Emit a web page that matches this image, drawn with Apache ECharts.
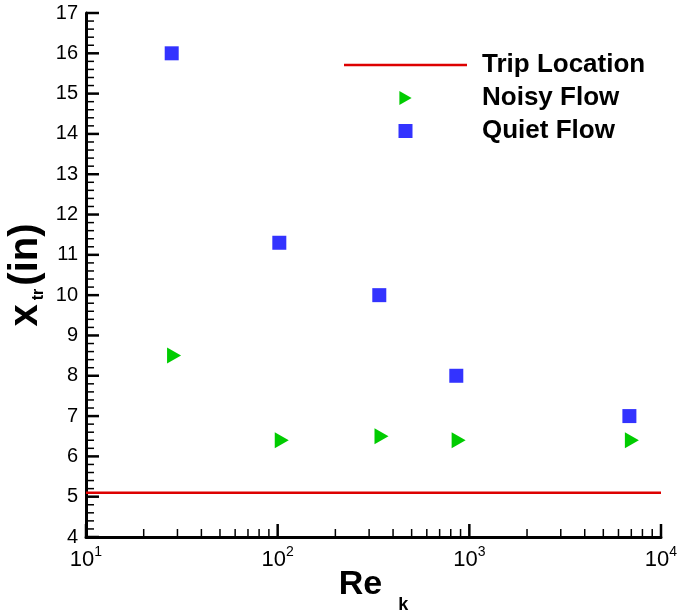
<!DOCTYPE html>
<html>
<head>
<meta charset="utf-8">
<script src="https://cdn.jsdelivr.net/npm/echarts@6/dist/echarts.min.js"></script>
<style>
  html, body { margin: 0; padding: 0; background: #fff; }
  #chart { width: 681px; height: 613px; }
</style>
</head>
<body>
<div id="chart"></div>
<script>
// values
const quietRe = [28, 102, 339, 855, 6840];
const quietX = [16.0, 11.3, 10.0, 8.0, 7.0];
const noisyRe = [28.8, 105, 348, 879, 7050];
const noisyX = [8.5, 6.4, 6.5, 6.4, 6.4];
const tripRe = [10, 10000];
const tripX = [5.1, 5.1];

// axis ticks
const xMajor = [10, 100, 1000, 10000];
const xMinorSteps = [2, 3, 4, 5, 6, 7, 8, 9];
const yMajor = [4, 5, 6, 7, 8, 9, 10, 11, 12, 13, 14, 15, 16, 17];
const yMinorSteps = [0.2, 0.4, 0.6, 0.8];

const FONT = '"Liberation Sans", Arial, sans-serif';
const X0 = 10, Y0 = 4;

const zip = (xs, ys) => xs.map((x, i) => [x, ys[i]]);

// tick marks: [x, y, dir(0 = on x axis, 1 = on y axis), length]
const ticks = [];
xMajor.forEach((d, i) => {
  ticks.push([d, Y0, 0, 13]);
  if (i < xMajor.length - 1) xMinorSteps.forEach(m => ticks.push([d * m, Y0, 0, 8]));
});
yMajor.forEach((v, i) => {
  ticks.push([X0, v, 1, 13]);
  if (i < yMajor.length - 1) yMinorSteps.forEach(s => ticks.push([X0, v + s, 1, 8]));
});

const chart = echarts.init(document.getElementById('chart'));

chart.setOption({
  animation: false,
  grid: { left: 86, right: 20, top: 13, bottom: 76, containLabel: false, outerBoundsMode: 'none' },
  legend: {
    data: [
      { name: 'Trip Location', icon: 'path://M0,0H100V2H0Z' },
      { name: 'Noisy Flow', icon: 'path://M0,0L14,8L0,16Z' },
      { name: 'Quiet Flow', icon: 'path://M0,0H1V1H0Z' }
    ],
    orient: 'vertical',
    left: 339,
    top: 47,
    itemWidth: 123,
    itemHeight: 14,
    itemGap: 7,
    textStyle: {
      fontFamily: FONT, fontWeight: 'bold', fontSize: 26, color: '#000',
      lineHeight: 26, padding: [0, 0, 0, 10]
    }
  },
  xAxis: {
    type: 'log',
    logBase: 10,
    min: 10,
    max: 10000,
    name: '{m|Re}{s|k}',
    nameLocation: 'middle',
    nameGap: 31,
    nameMoveOverlap: false,
    nameTextStyle: {
      rich: {
        m: { fontFamily: FONT, fontWeight: 'bold', fontSize: 34, color: '#000', lineHeight: 46,
             verticalAlign: 'top' },
        s: { fontFamily: FONT, fontWeight: 'bold', fontSize: 18, color: '#000', lineHeight: 46,
             verticalAlign: 'bottom', padding: [0, 0, 0, 16] }
      }
    },
    axisLine: { onZero: false, lineStyle: { color: '#000', width: 3 } },
    axisTick: { show: false },
    splitLine: { show: false },
    axisLabel: {
      margin: 8,
      formatter: v => '{b|10}{s|' + Math.round(Math.log10(v)) + '}',
      rich: {
        b: { fontFamily: FONT, fontSize: 22, color: '#000', lineHeight: 26, verticalAlign: 'bottom' },
        s: { fontFamily: FONT, fontSize: 14, color: '#000', lineHeight: 26, verticalAlign: 'top' }
      }
    }
  },
  yAxis: {
    type: 'value',
    min: 4,
    max: 17,
    interval: 1,
    name: '{m|x}{s|tr}{m|(in)}',
    nameLocation: 'middle',
    nameRotate: 90,
    nameGap: 39,
    nameMoveOverlap: false,
    nameTextStyle: {
      rich: {
        m: { fontFamily: FONT, fontWeight: 'bold', fontSize: 40, color: '#000', lineHeight: 42 },
        s: { fontFamily: FONT, fontWeight: 'bold', fontSize: 16, color: '#000', lineHeight: 42,
             verticalAlign: 'bottom', padding: [0, 3, 0, 4] }
      }
    },
    axisLine: { onZero: false, lineStyle: { color: '#000', width: 3 } },
    axisTick: { show: false },
    minorTick: { show: false },
    splitLine: { show: false },
    axisLabel: { margin: 8, fontFamily: FONT, fontSize: 20, color: '#000' }
  },
  series: [
    {
      name: 'Trip Location',
      type: 'line',
      data: zip(tripRe, tripX),
      symbol: 'none',
      lineStyle: { color: '#dd0000', width: 2.5 },
      itemStyle: { color: '#dd0000' },
      z: 2
    },
    {
      name: 'Noisy Flow',
      type: 'scatter',
      data: zip(noisyRe, noisyX),
      symbol: 'path://M0,0L1,0.5L0,1Z',
      symbolSize: [14, 16],
      itemStyle: { color: '#00cc00', opacity: 1 },
      z: 3
    },
    {
      name: 'Quiet Flow',
      type: 'scatter',
      data: zip(quietRe, quietX),
      symbol: 'rect',
      symbolSize: 14,
      itemStyle: { color: '#3333ff', opacity: 1 },
      z: 3
    },
    {
      name: 'ticks',
      type: 'custom',
      silent: true,
      clip: false,
      data: ticks,
      renderItem: (params, api) => {
        const p = api.coord([api.value(0), api.value(1)]);
        const len = api.value(3);
        const major = len > 10;
        const onX = api.value(2) === 0;
        return {
          type: 'line',
          shape: onX
            ? { x1: p[0], y1: p[1], x2: p[0], y2: p[1] - len }
            : { x1: p[0], y1: p[1], x2: p[0] + len, y2: p[1] },
          style: { stroke: '#000', lineWidth: major ? 2.5 : 1.5 }
        };
      },
      z: 5
    }
  ]
});
</script>
</body>
</html>
